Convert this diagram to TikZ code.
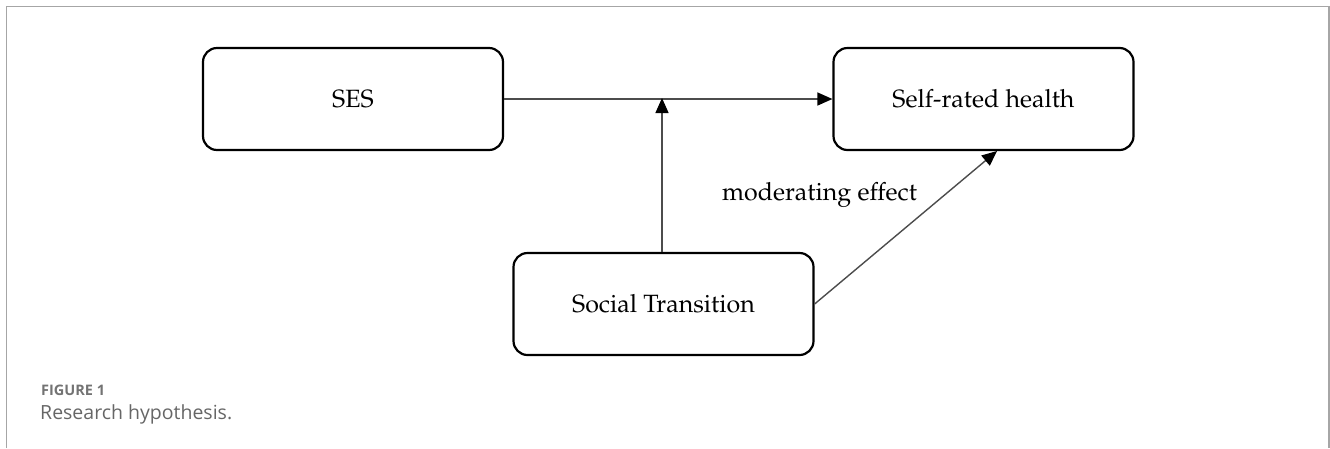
\documentclass[tikz,border=0pt]{standalone}
\usepackage[T1]{fontenc}
\usepackage{fontspec}
\newfontfamily\capfont{Open Sans}
\newcommand{\diafont}{\fontencoding{T1}\fontfamily{ppl}\selectfont}
\usetikzlibrary{arrows.meta}
\begin{document}
\begin{tikzpicture}[x=1pt,y=-1pt,
  box/.style={draw=black, line width=2.2pt, rounded corners=14pt, minimum width=300pt, minimum height=102pt, inner sep=0pt, font=\diafont\fontsize{25}{28}\selectfont},
  conn/.style={draw=black!70, line width=1.4pt, -{Triangle[length=15pt,width=13pt,color=black]}},
  frameline/.style={draw=black!35, line width=1.8pt}]
\useasboundingbox (0,0) rectangle (1330,448);
\draw[frameline] (6.5,448) -- (6.5,6.5) -- (1329,6.5) -- (1329,448);
\node[box] (ses) at (353,99) {SES};
\node[box] (srh) at (983.5,99) {Self-rated health};
\node[box] (st) at (663.5,304) {Social Transition};
\coordinate (mid) at (662,98);
\draw[conn] (ses.east) -- (srh.west);
\draw[conn] (st.north -| mid) -- (mid);
\coordinate (tip) at (997,151);
\draw[conn] (st.east) -- (tip);
\node[font=\diafont\fontsize{25}{28}\selectfont, anchor=center] (lab) at (819.5,195) {moderating effect};
\node[font=\capfont\bfseries\fontsize{14.5}{17}\selectfont, text=black!55, anchor=west, inner sep=0pt] (fig) at (41,390) {FIGURE 1};
\node[font=\capfont\fontsize{19.5}{22}\selectfont, text=black!60, anchor=west, inner sep=0pt] (cap) at (40,414) {Research hypothesis.};
\end{tikzpicture}
\end{document}
